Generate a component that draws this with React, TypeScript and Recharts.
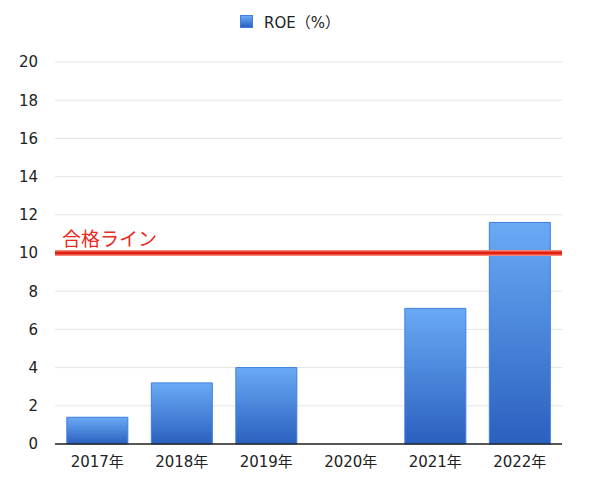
import React from 'react';
import { BarChart, Bar, XAxis, YAxis, CartesianGrid, ReferenceLine, Legend } from 'recharts';

const categories = ['2017年', '2018年', '2019年', '2020年', '2021年', '2022年'];
const roeValues = [1.4, 3.2, 4.0, 0, 7.1, 11.6];
const yTicks = [0, 2, 4, 6, 8, 10, 12, 14, 16, 18, 20];
const passLine = 10;
const passLabel = '合格ライン';
const seriesName = 'ROE（%）';

const data = categories.map((c, i) => ({ year: c, roe: roeValues[i] }));

const FONT = '"DejaVu Sans", "Noto Sans CJK JP", sans-serif';
const CJK = '"Noto Sans CJK JP", sans-serif';

const LegendContent = () => (
  <div style={{ display: 'flex', justifyContent: 'center', alignItems: 'center', fontFamily: FONT, fontSize: 15, color: '#222', paddingRight: 20, height: 19 }}>
    <span style={{ display: 'inline-block', width: 11, height: 11, background: 'linear-gradient(#6aaaf5, #2a60bf)', border: '1px solid #3d7fe0', marginRight: 11 }} />
    <span>{seriesName}</span>
  </div>
);

export default function App() {
  return (
    <div style={{ position: 'absolute', left: 0, top: 0, width: 600, height: 491, background: '#fff', fontFamily: FONT }}>
      <BarChart width={600} height={491} data={data} margin={{ top: 43, right: 38, bottom: 17, left: 0 }} barCategoryGap="14%">
        <defs>
          <linearGradient id="barGrad" x1="0" y1="0" x2="0" y2="1">
            <stop offset="0%" stopColor="#6aaaf5" />
            <stop offset="100%" stopColor="#2a60bf" />
          </linearGradient>
        </defs>
        <Legend verticalAlign="top" height={19} content={<LegendContent />} wrapperStyle={{ top: 12, left: 0, width: 600 }} />
        <CartesianGrid vertical={false} stroke="#e4e4e4" />
        <XAxis dataKey="year" height={30} tickLine={false} axisLine={{ stroke: '#222', strokeWidth: 1.5 }} tick={{ fill: '#222', fontSize: 15, fontFamily: FONT }} tickMargin={6} />
        <YAxis width={55} domain={[0, 20]} ticks={yTicks} interval={0} tickLine={false} axisLine={false} tick={{ fill: '#222', fontSize: 15, fontFamily: FONT }} tickMargin={11} />
        <Bar dataKey="roe" name={seriesName} fill="url(#barGrad)" stroke="#3d7fe0" strokeWidth={1} isAnimationActive={false} />
        <ReferenceLine y={passLine} stroke="#f3877c" strokeWidth={6} ifOverflow="extendDomain" />
        <ReferenceLine y={passLine} stroke="#e2200f" strokeWidth={3} label={{ value: passLabel, position: 'insideBottomLeft', offset: 7, fill: '#e8291c', fontSize: 19, fontFamily: CJK }} />
      </BarChart>
    </div>
  );
}
